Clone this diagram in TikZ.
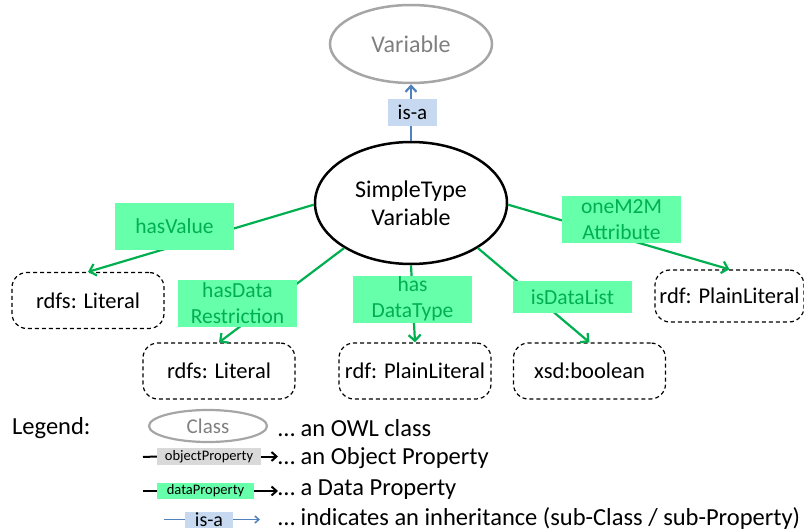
\documentclass[tikz,border=0pt]{standalone}
\usepackage{fontspec}
\setmainfont{Carlito}
\usetikzlibrary{shapes.geometric,arrows.meta}
\definecolor{dpgreen}{HTML}{00B050}
\definecolor{dpfill}{HTML}{66FFAA}
\definecolor{isablue}{HTML}{4F81BD}
\definecolor{isafill}{HTML}{C6D9F1}
\definecolor{clsgray}{HTML}{A6A6A6}
\definecolor{clstext}{HTML}{7F7F7F}
\definecolor{opfill}{HTML}{D9D9D9}
\begin{document}
\begin{tikzpicture}[x=1pt,y=-1pt,
  cls/.style={ellipse,draw=clsgray,line width=2.5pt,text=clstext,inner sep=0pt,font=\fontsize{24}{28}\selectfont},
  mainclass/.style={ellipse,draw=black,line width=2.5pt,inner sep=0pt,align=center,font=\fontsize{24}{28}\selectfont},
  lit/.style={draw=black,dash pattern=on 4pt off 3pt,rounded corners=15pt,line width=1.2pt,minimum width=152pt,minimum height=56pt,inner sep=0pt,font=\fontsize{22.5}{27}\selectfont},
  dplabel/.style={fill=dpfill,text=dpgreen,minimum width=119pt,inner sep=0pt,align=center,font=\fontsize{21.5}{26}\selectfont},
  dpedge/.style={draw=dpgreen,line width=2.2pt,-{Straight Barb[length=6pt,width=12pt]}},
  isaedge/.style={draw=isablue,line width=2.2pt,-{Straight Barb[length=6pt,width=11pt]}},
  isalabel/.style={fill=isafill,inner sep=0pt,font=\fontsize{21}{24}\selectfont},
  legtext/.style={anchor=west,inner sep=0pt,font=\fontsize{24.5}{28}\selectfont},
  legline/.style={draw=black,line width=2pt},
  legarrow/.style={draw=black,line width=2pt,-{Straight Barb[length=5pt,width=9pt]}},
  smalllabel/.style={inner sep=0pt,font=\fontsize{14.5}{16}\selectfont}
]
\useasboundingbox (0,0) rectangle (804,532);

% classes
\node[cls,minimum width=162pt,minimum height=78pt] (var) at (411,44) {Variable};
\node[mainclass,minimum width=192pt,minimum height=122pt] (st) at (411,203) {SimpleType\\Variable};

% literal boxes
\node[lit] (lit1) at (88,300.5) {rdfs: Literal};
\node[lit] (lit2) at (219,371) {rdfs: Literal};
\node[lit] (pl1) at (415,371) {rdf: PlainLiteral};
\node[lit] (xsd) at (589.5,371) {xsd:boolean};
\node[lit,minimum width=149pt,minimum height=52pt] (pl2) at (729.5,296) {rdf: PlainLiteral};

% edges
\draw[isaedge] (st.north) -- (var.south);
\draw[dpedge] (st.181) -- (lit1.north);
\draw[dpedge] (st.214) -- (lit2.north);
\draw[dpedge] (st.south) -- (pl1.north);
\draw[dpedge] (st.326) -- (xsd.north);
\draw[dpedge] (st.359) -- (pl2.north);

% labels
\node[isalabel,minimum width=49pt,minimum height=27pt] (isa) at (412.5,112.5) {is-a};
\node[dplabel,minimum height=47pt] (hv) at (174.5,226.5) {hasValue};
\node[dplabel,minimum height=47pt] (hdr) at (237.5,303.5) {hasData\\Restriction};
\node[dplabel,minimum height=47pt] (hdt) at (412.5,299) {has\\DataType};
\node[dplabel,minimum height=32pt] (idl) at (572.5,297) {isDataList};
\node[dplabel,minimum height=47pt] (m2m) at (621.5,219.5) {oneM2M\\Attribute};

% legend
\node[legtext] (leg) at (12,428) {Legend:};
\node[cls,minimum width=118pt,minimum height=32pt,line width=2.2pt,font=\fontsize{21}{24}\selectfont] (lcls) at (208,426) {Class};
\node[legtext] (t1) at (278,428) {… an OWL class};

\node[smalllabel,fill=opfill,minimum width=104pt,minimum height=17pt] (lop) at (209,456.5) {objectProperty};
\node[legtext] (t2) at (278,458) {… an Object Property};
\coordinate (lopa) at (143,457);
\draw[legline] (lopa) -- (lop.west);
\draw[legarrow] (lop.east) -- (t2.west |- lop.east);

\node[smalllabel,fill=dpfill,minimum width=97pt,minimum height=16pt] (ldp) at (205.5,491) {dataProperty};
\node[legtext] (t3) at (278,490) {… a Data Property};
\coordinate (ldpa) at (143,491);
\draw[legline] (ldpa) -- (ldp.west);
\draw[legarrow] (ldp.east) -- (t3.west |- ldp.east);

\node[isalabel,minimum width=48pt,minimum height=16pt,font=\fontsize{20}{22}\selectfont] (lisa) at (209,519.5) {is-a};
\node[legtext] (t4) at (278,519) {… indicates an inheritance (sub-Class / sub-Property)};
\coordinate (lisaa) at (164,519.5);
\coordinate (lisab) at (260,519.5);
\draw[draw=isablue,line width=1.5pt] (lisaa) -- (lisa.west);
\draw[draw=isablue,line width=1.5pt,-{Straight Barb[length=4pt,width=7pt]}] (lisa.east) -- (lisab);
\end{tikzpicture}
\end{document}
